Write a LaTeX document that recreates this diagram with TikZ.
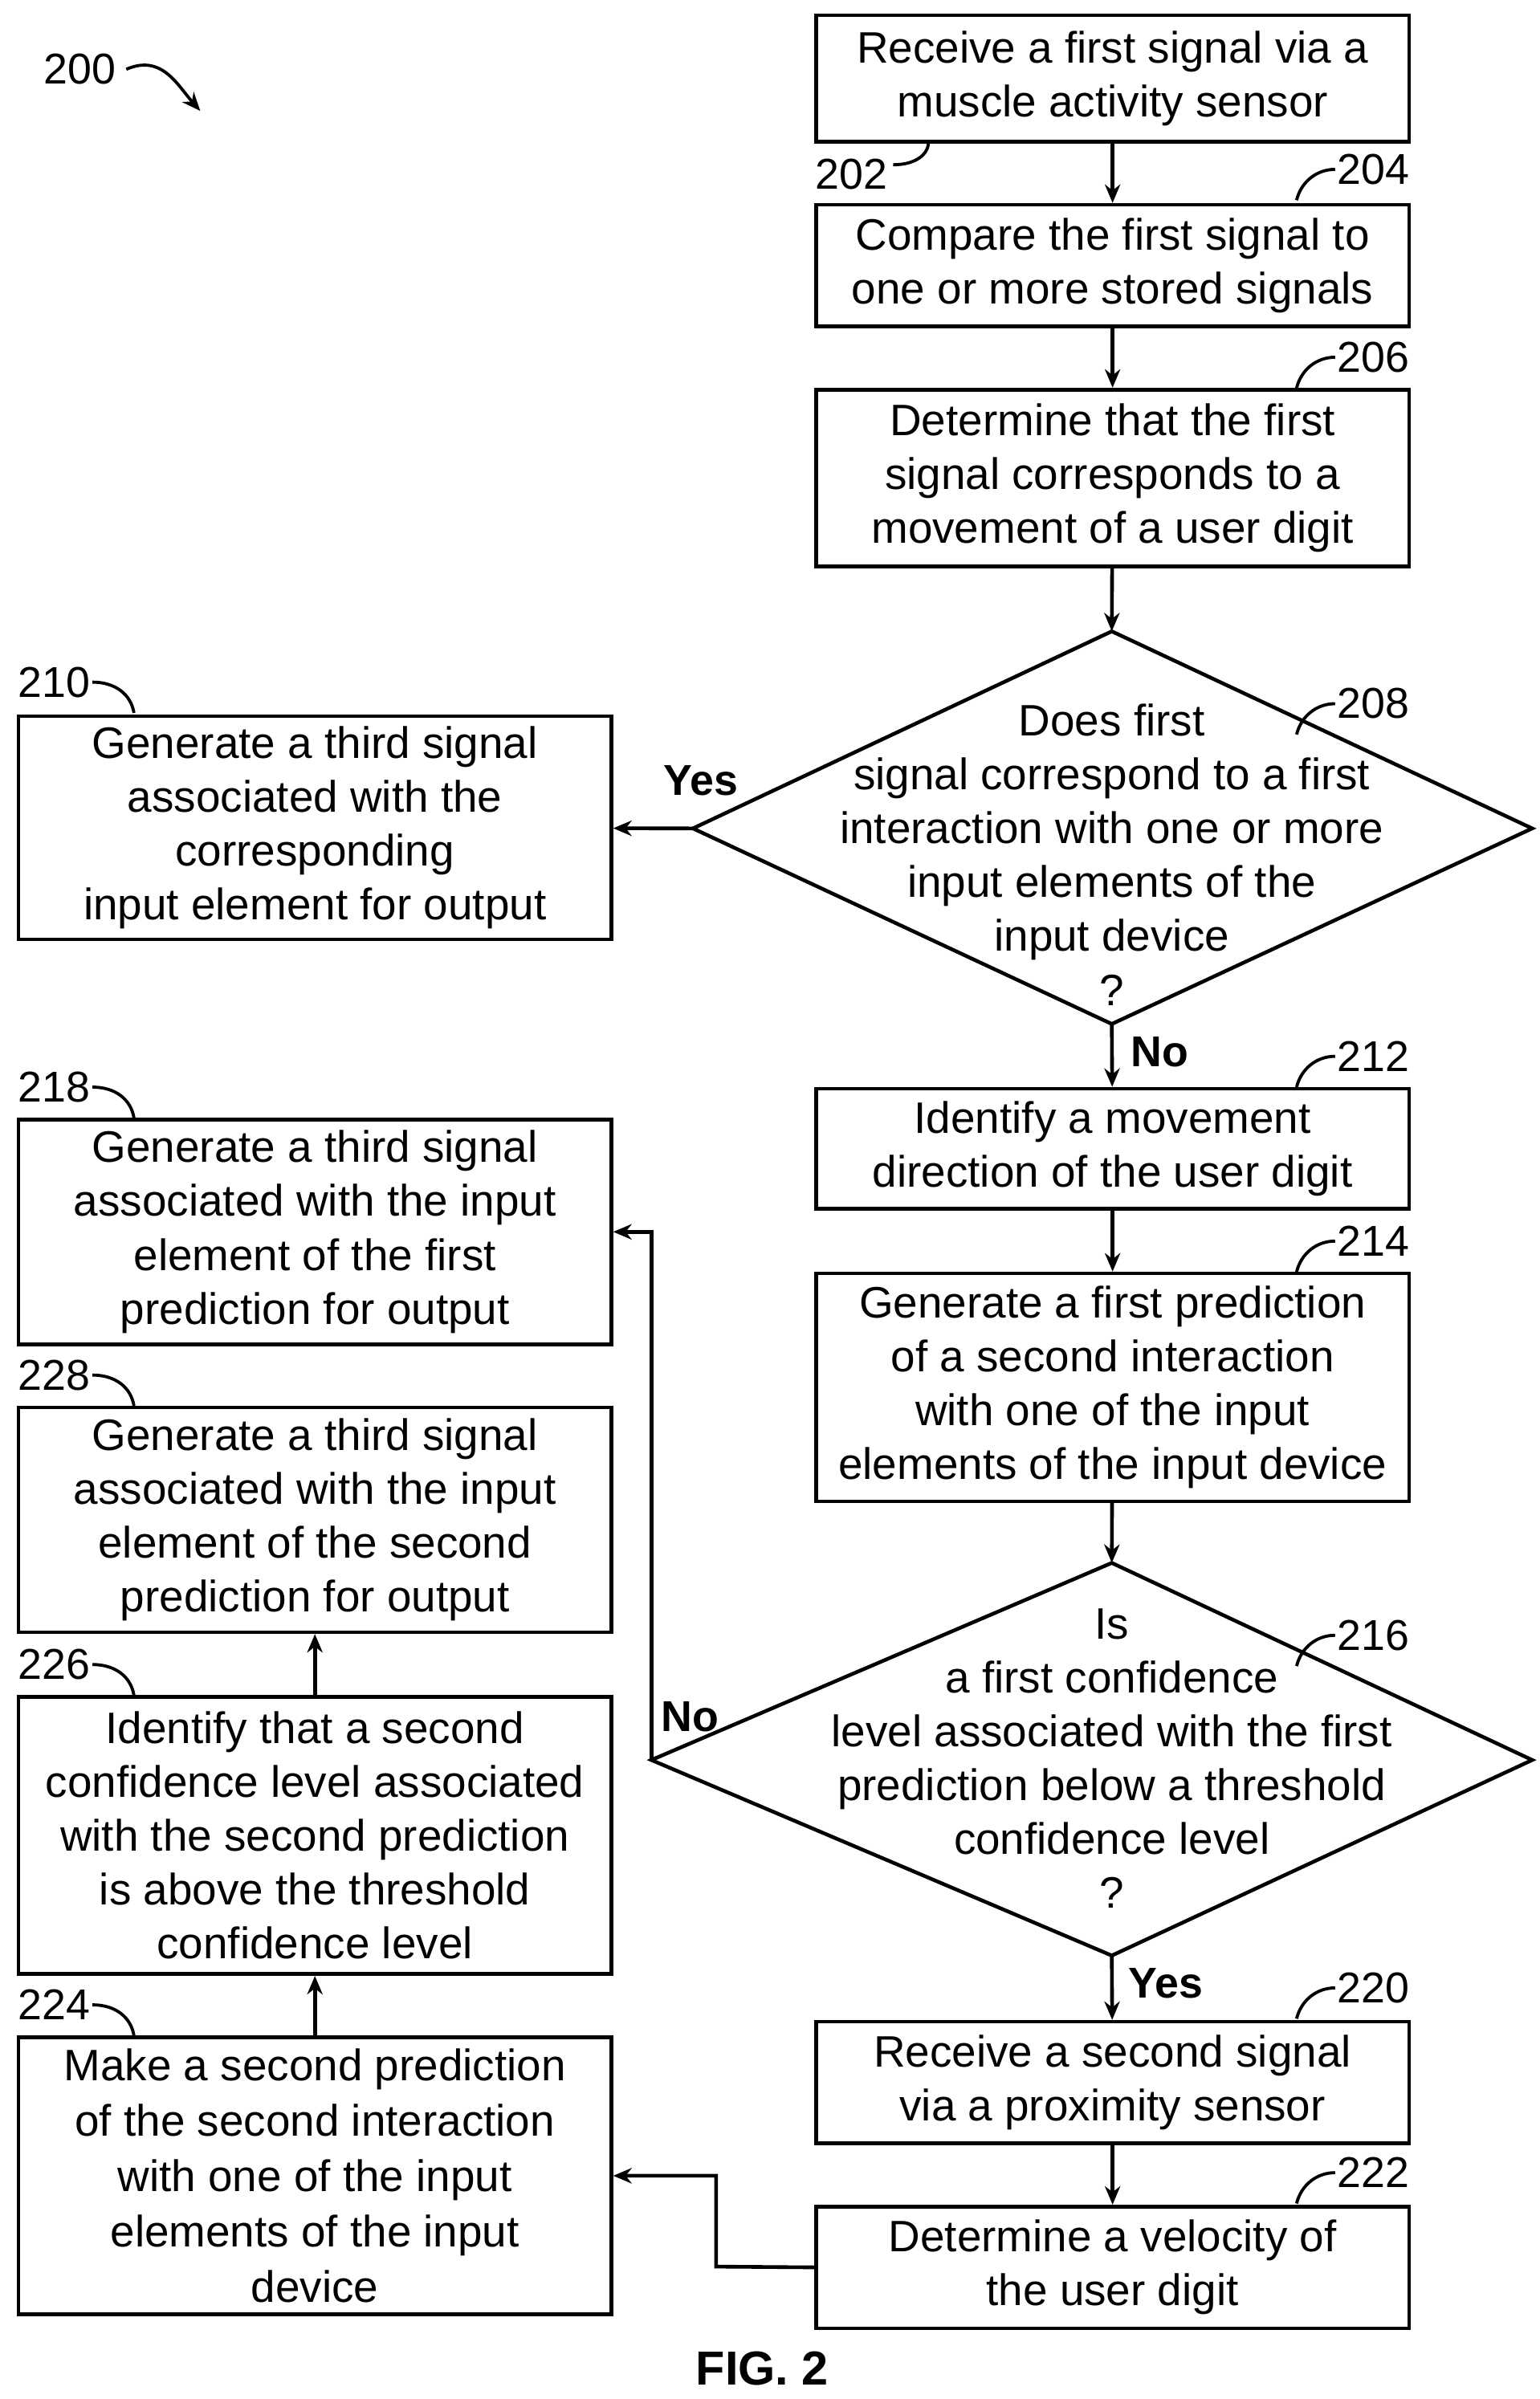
\documentclass[tikz,border=0pt]{standalone}
\usepackage{fontspec}
\setmainfont{Liberation Sans}
\usetikzlibrary{arrows.meta}
\begin{document}
\begin{tikzpicture}[x=0.5pt,y=-0.5pt,
  box/.style={draw,line width=1.2pt,minimum width=192.5pt,align=center,inner sep=0pt,font=\fontsize{14.3}{17.5}\selectfont},
  txt/.style={align=center,font=\fontsize{14.3}{17.5}\selectfont},
  lbl/.style={font=\fontsize{14}{15}\selectfont},
  yn/.style={font=\bfseries\fontsize{14}{15}\selectfont},
  ar/.style={line width=1.2pt,-{Stealth[length=6pt,width=5pt]}},
  ld/.style={line width=1pt}]
\useasboundingbox (0,0) rectangle (1000,1558);
\node[box,minimum height=41pt] (b202) at (722.5,51) {Receive a first signal via a\\muscle activity sensor};
\node[box,minimum height=39.5pt] (b204) at (722.5,172.5) {Compare the first signal to\\one or more stored signals};
\node[box,minimum height=57.5pt] (b206) at (722.5,310.5) {Determine that the first\\signal corresponds to a\\movement of a user digit};
\coordinate (d8t) at (722,410); \coordinate (d8b) at (722,665);
\coordinate (d8l) at (450,538); \coordinate (d8r) at (995,538);
\draw[line width=1.2pt] (d8t)--(d8r)--(d8b)--(d8l)--cycle;
\node[txt] (t208) at (722,555) {Does first\\signal correspond to a first\\interaction with one or more\\input elements of the\\input device\\?};
\node[box,minimum height=72.5pt] (b210) at (204.5,537.5) {Generate a third signal\\associated with the\\corresponding\\input element for output};
\node[box,minimum height=39pt] (b212) at (722.5,746) {Identify a movement\\direction of the user digit};
\node[box,minimum height=74pt] (b214) at (722.5,901) {Generate a first prediction\\of a second interaction\\with one of the input\\elements of the input device};
\coordinate (d6t) at (722,1015); \coordinate (d6b) at (722,1270);
\coordinate (d6l) at (423,1143); \coordinate (d6r) at (995,1143);
\draw[line width=1.2pt] (d6t)--(d6r)--(d6b)--(d6l)--cycle;
\node[txt] (t216) at (722,1142) {Is\\a first confidence\\level associated with the first\\prediction below a threshold\\confidence level\\?};
\node[box,minimum height=39.5pt] (b220) at (722.5,1352.5) {Receive a second signal\\via a proximity sensor};
\node[box,minimum height=39.5pt] (b222) at (722.5,1472.5) {Determine a velocity of\\the user digit};
\node[box,minimum height=73pt] (b218) at (204.5,800) {Generate a third signal\\associated with the input\\element of the first\\prediction for output};
\node[box,minimum height=73pt] (b228) at (204.5,987) {Generate a third signal\\associated with the input\\element of the second\\prediction for output};
\node[box,minimum height=90pt] (b226) at (204.5,1192) {Identify that a second\\confidence level associated\\with the second prediction\\is above the threshold\\confidence level};
\node[box,minimum height=90pt,font=\fontsize{14.3}{18}\selectfont] (b224) at (204.5,1413) {Make a second prediction\\of the second interaction\\with one of the input\\elements of the input\\device};
% arrows
\draw[ar] (b202)--(b204);
\draw[ar] (b204)--(b206);
\draw[ar] (b206)--(d8t);
\draw[ar] (d8l)--(b210);
\draw[ar] (d8b)--(b212);
\draw[ar] (b212)--(b214);
\draw[ar] (b214)--(d6t);
\draw[ar] (d6l)--(423,800)--(b218.east);
\draw[ar] (d6b)--(b220);
\draw[ar] (b220)--(b222);
\draw[ar] (b222.west)--(465,1472)--(465,1413)--(b224.east);
\draw[ar] (b224)--(b226);
\draw[ar] (b226)--(b228);
\node[yn] (y1) at (455,507) {Yes};
\node[yn] (n1) at (753,683) {No};
\node[yn] (n2) at (448,1115) {No};
\node[yn] (y2) at (757,1288) {Yes};
% reference labels
\node[lbl] (l200) at (52,45) {200};
\draw[ld,-{Stealth[length=6pt,width=5pt]}] (82,45) .. controls (105,35) and (115,55) .. (130,72);
\node[lbl] (l202) at (553,113) {202};
\draw[ld] (580,107) .. controls (595,107) and (603,100) .. (603,92);
\foreach \n/\y in {204/110,206/232,208/457,212/686,214/806,216/1062,220/1291,222/1411}{
  \node[lbl] (l\n) at (892,\y) {\n};
  \draw[ld] (842,\y+20) .. controls (845,\y+8) and (855,\y) .. (867,\y);
}
\foreach \n/\y in {210/443,218/706,228/893,226/1081,224/1302}{
  \node[lbl] (l\n) at (35,\y) {\n};
  \draw[ld] (60,\y) .. controls (75,\y) and (85,\y+8) .. (87,\y+20);
}
\node[font=\bfseries\fontsize{15.5}{16}\selectfont] (fig) at (495,1538) {FIG. 2};
\end{tikzpicture}
\end{document}
